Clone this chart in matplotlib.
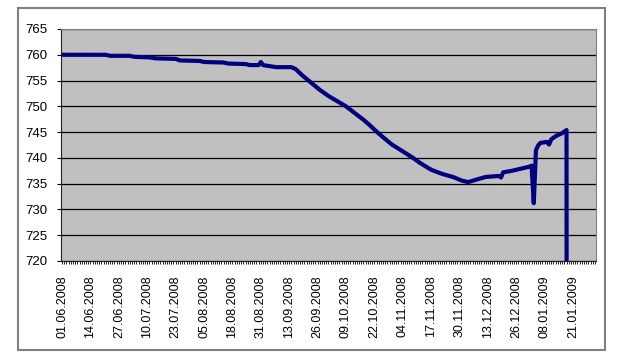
import matplotlib
matplotlib.use('Agg')
import matplotlib.pyplot as plt
import matplotlib.dates as mdates
import pandas as pd
from matplotlib.patches import Rectangle

plt.rcParams['font.family'] = ['Liberation Sans', 'DejaVu Sans']

# readings (dd.mm.yyyy, level)
dates = ['01.06.2008', '21.06.2008', '23.06.2008', '02.07.2008', '04.07.2008',
         '11.07.2008', '14.07.2008', '23.07.2008', '25.07.2008', '03.08.2008',
         '05.08.2008', '14.08.2008', '16.08.2008', '24.08.2008', '26.08.2008',
         '30.08.2008', '31.08.2008', '01.09.2008', '04.09.2008', '07.09.2008',
         '14.09.2008', '16.09.2008', '19.09.2008', '23.09.2008', '27.09.2008',
         '01.10.2008', '05.10.2008', '09.10.2008', '13.10.2008', '17.10.2008',
         '20.10.2008', '23.10.2008', '26.10.2008', '30.10.2008', '02.11.2008',
         '05.11.2008', '08.11.2008', '12.11.2008', '17.11.2008', '22.11.2008',
         '27.11.2008', '01.12.2008', '04.12.2008', '07.12.2008', '12.12.2008',
         '18.12.2008', '19.12.2008', '20.12.2008', '24.12.2008', '28.12.2008',
         '01.01.2009', '02.01.2009', '03.01.2009', '04.01.2009', '05.01.2009',
         '06.01.2009', '09.01.2009', '10.01.2009', '11.01.2009', '13.01.2009',
         '16.01.2009', '18.01.2009', '19.01.2009', '31.01.2009']
levels = [760.0, 760.0, 759.8, 759.8, 759.6,
          759.5, 759.3, 759.2, 758.9, 758.8,
          758.6, 758.5, 758.3, 758.2, 758.0,
          758.0, 758.6, 758.0, 757.8, 757.6,
          757.6, 757.2, 756.0, 754.6, 753.2,
          752.0, 751.0, 750.0, 748.7, 747.4,
          746.3, 745.1, 744.0, 742.6, 741.8,
          741.0, 740.2, 739.0, 737.7, 736.9,
          736.3, 735.6, 735.3, 735.7, 736.3,
          736.5, 736.2, 737.2, 737.5, 737.9,
          738.3, 738.5, 731.2, 741.5, 742.4,
          742.9, 743.1, 742.6, 743.6, 744.2,
          744.8, 745.4, 0.0, 0.0]

first_day = '01.06.2008'
last_day = '31.01.2009'
last_label = '21.01.2009'
yticks = [720, 725, 730, 735, 740, 745, 750, 755, 760, 765]

x = pd.to_datetime(dates, format='%d.%m.%Y')
start = pd.to_datetime(first_day, format='%d.%m.%Y')
end = pd.to_datetime(last_day, format='%d.%m.%Y')
tick_days = pd.date_range(start, pd.to_datetime(last_label, format='%d.%m.%Y'), freq='13D')

fig = plt.figure(figsize=(6.25, 3.61), dpi=100)
# outer chart frame
fig.patches.append(Rectangle((18/625, 1-350/361), 587/625, 342/361,
                             transform=fig.transFigure, fill=False,
                             edgecolor='#808080', linewidth=1.5))
ax = fig.add_axes([61/625, 1-261/361, 535/625, 232/361])
ax.set_facecolor('#c0c0c0')

ax.plot(x, levels, color='#000080', linewidth=3.0, solid_joinstyle='round')

ax.set_ylim(720, 765)
ax.set_yticks(yticks)
half = pd.Timedelta(hours=12)
ax.set_xlim(start - half, end + half)
ax.set_xticks(tick_days)
ax.xaxis.set_major_formatter(mdates.DateFormatter('%d.%m.%Y'))
ax.xaxis.set_minor_locator(mdates.DayLocator())
ax.grid(axis='y', color='black', linewidth=0.9)
ax.set_axisbelow(True)

ax.tick_params(axis='x', which='both', direction='out', length=2.5, width=0.7,
               color='#222222', labelrotation=90, labelsize=9, pad=8)
ax.tick_params(axis='y', direction='out', length=3, width=0.8, labelsize=9.5, pad=7)

for s in ['top', 'right']:
    ax.spines[s].set_color('#808080')
ax.spines['left'].set_color('#222222')
ax.spines['bottom'].set_color('#222222')

plt.savefig('out.png', dpi=100)
